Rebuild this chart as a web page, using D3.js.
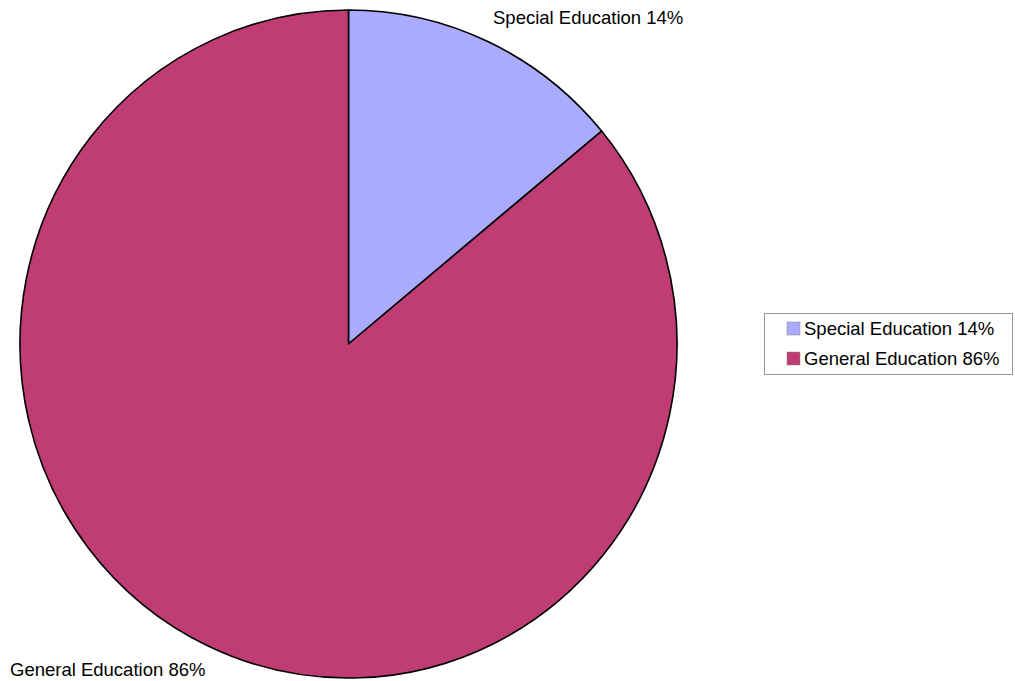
<!DOCTYPE html>
<html><head><meta charset="utf-8">
<script src="https://cdn.jsdelivr.net/npm/d3@7"></script>
<style>body{margin:0;background:#fff}svg{display:block}</style>
</head><body>
<svg id="c" width="1015" height="681"></svg>
<script>
const categories = ["Special Education 14%", "General Education 86%"];
const values = [14, 86];
const colors = ["#aaaaff", "#c03c74"];

const svg = d3.select("#c");
const cx = 348.5, cy = 344, rx = 328.5, ry = 334;
const pie = d3.pie().sort(null).value(d => d)(values);
const arc = d3.arc().innerRadius(0).outerRadius(rx);
const g = svg.append("g").attr("transform", `translate(${cx},${cy}) scale(1,${ry / rx})`);
g.selectAll("path").data(pie).join("path")
  .attr("d", arc)
  .attr("fill", (d, i) => colors[i])
  .attr("stroke", "#000").attr("stroke-width", 1.6)
  .attr("vector-effect", "non-scaling-stroke")
  .attr("stroke-linejoin", "round");

const font = "'Liberation Sans', Arial, sans-serif";
const fs = 18.5;
// slice labels
const labelPos = [[493, 24], [10, 676]];
svg.selectAll("text.lbl").data(categories).join("text").attr("class", "lbl")
  .attr("x", (d, i) => labelPos[i][0]).attr("y", (d, i) => labelPos[i][1])
  .attr("font-family", font).attr("font-size", fs).attr("fill", "#000")
  .text(d => d);

// legend
const lg = svg.append("g");
lg.append("rect").attr("x", 764.5).attr("y", 313.5).attr("width", 248).attr("height", 61)
  .attr("fill", "#fff").attr("stroke", "#999").attr("stroke-width", 1);
categories.forEach((c, i) => {
  lg.append("rect").attr("x", 787).attr("y", 322 + i * 30).attr("width", 13).attr("height", 13)
    .attr("fill", colors[i]).attr("stroke", "#888").attr("stroke-width", 0.5);
  lg.append("text").attr("x", 804).attr("y", 335 + i * 30)
    .attr("font-family", font).attr("font-size", fs).attr("fill", "#000").text(c);
});
</script>
</body></html>
